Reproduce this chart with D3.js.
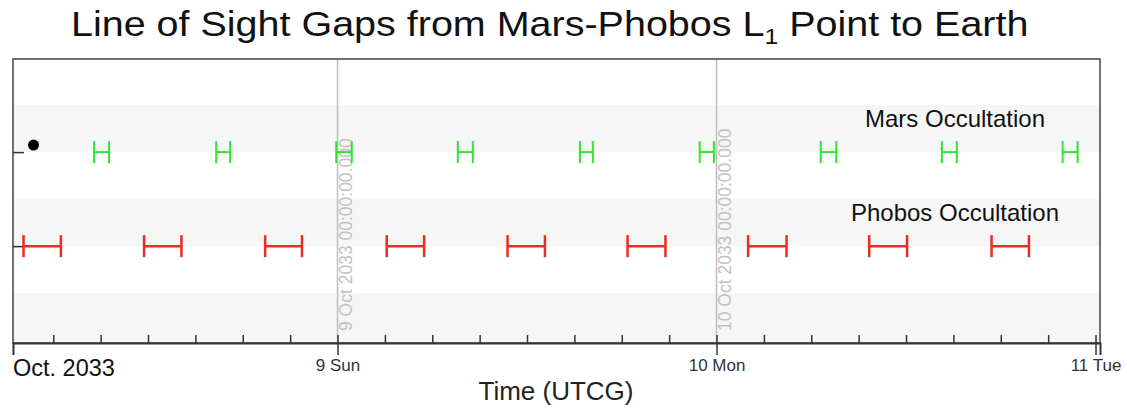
<!DOCTYPE html>
<html>
<head>
<meta charset="utf-8">
<script src="https://cdn.jsdelivr.net/npm/d3@7"></script>
<style>
  html, body { margin: 0; padding: 0; background: #fff; }
  svg { display: block; font-family: "Liberation Sans", Arial, sans-serif; }
</style>
</head>
<body>
<svg id="chart" width="1127" height="409"></svg>
<script>
// Occultation rows (row index on the y scale)
const rows = ["Mars Occultation", "Phobos Occultation"];
const rowIndex = [1, 2];

// Line-of-sight gaps caused by Mars (UTCG)
const marsStart = ["2033-10-08T08:35", "2033-10-08T16:19", "2033-10-08T23:55", "2033-10-09T07:37",
                   "2033-10-09T15:21", "2033-10-09T22:56", "2033-10-10T06:36", "2033-10-10T14:16",
                   "2033-10-10T21:55"];
const marsEnd   = ["2033-10-08T09:32", "2033-10-08T17:12", "2033-10-09T00:54", "2033-10-09T08:34",
                   "2033-10-09T16:10", "2033-10-09T23:50", "2033-10-10T07:35", "2033-10-10T15:13",
                   "2033-10-10T22:52"];

// Line-of-sight gaps caused by Phobos (UTCG)
const phobosStart = ["2033-10-08T04:07", "2033-10-08T11:45", "2033-10-08T19:25", "2033-10-09T03:07",
                     "2033-10-09T10:46", "2033-10-09T18:22", "2033-10-10T02:00", "2033-10-10T09:40",
                     "2033-10-10T17:25"];
const phobosEnd   = ["2033-10-08T06:29", "2033-10-08T14:07", "2033-10-08T21:45", "2033-10-09T05:29",
                     "2033-10-09T13:08", "2033-10-09T20:46", "2033-10-10T04:26", "2033-10-10T12:04",
                     "2033-10-10T19:47"];

// Single event marker
const markerTime = ["2033-10-08T04:45"];
const markerRow = [0.925];

// Time window and day markers
const timeWindow = ["2033-10-08T03:27", "2033-10-11T00:17"];
const dayMarks = ["2033-10-09T00:00", "2033-10-10T00:00"];

const titleMain = "Line of Sight Gaps from Mars-Phobos L";
const titleSub = "1";
const titleEnd = " Point to Earth";
const xTitle = "Time (UTCG)";
const monthLabel = "Oct. 2033";

const t = s => new Date(s + ":00Z");

const svg = d3.select("#chart");
const L = 13, R = 1100, T = 59, B = 343;

const x = d3.scaleUtc().domain(timeWindow.map(t)).range([L, R]);
const y = d3.scaleLinear().domain([0.01, 3.03]).range([T, B]);

// Alternating row shading
const bands = [1, 2, 3];
svg.append("g").selectAll("rect").data(bands).join("rect")
  .attr("x", L)
  .attr("width", R - L)
  .attr("y", d => y(d - 0.5))
  .attr("height", d => Math.min(y(d), B) - y(d - 0.5) + (d === 3 ? B - y(d) : 0))
  .attr("fill", "#f6f6f6");

// Day boundary lines with their labels
const fmtFull = d3.utcFormat("%-d %b %Y %H:%M:%S.%L");
const days = svg.append("g");
days.selectAll("line").data(dayMarks).join("line")
  .attr("x1", d => x(t(d))).attr("x2", d => x(t(d)))
  .attr("y1", T).attr("y2", B)
  .attr("stroke", "#bdbdbd").attr("stroke-width", 1.5);
days.selectAll("text").data(dayMarks).join("text")
  .attr("transform", d => `translate(${x(t(d)) + 14},${B - 12}) rotate(-90)`)
  .attr("font-size", 17.5)
  .attr("fill", "#c2c2c2")
  .text(d => fmtFull(t(d)));

// Frame
svg.append("rect")
  .attr("x", L).attr("y", T).attr("width", R - L).attr("height", B - T)
  .attr("fill", "none").attr("stroke", "#444").attr("stroke-width", 1.5);

// Y axis ticks at each row
svg.append("g")
  .attr("transform", `translate(${L},0)`)
  .call(d3.axisLeft(y).tickValues(rowIndex).tickSize(-11).tickFormat(""))
  .call(g => g.select(".domain").remove())
  .call(g => g.selectAll("line").attr("stroke", "#333").attr("stroke-width", 1.5));

// X axis: 3-hour minor ticks pointing inward
svg.append("g")
  .attr("transform", `translate(0,${B})`)
  .call(d3.axisBottom(x).ticks(d3.utcHour.every(3)).tickSize(-8).tickFormat(""))
  .call(g => g.select(".domain").remove())
  .call(g => g.selectAll("line").attr("stroke", "#333").attr("stroke-width", 1.5));

// X axis: day ticks with labels
svg.append("g")
  .attr("transform", `translate(0,${B})`)
  .call(d3.axisBottom(x).ticks(d3.utcDay.every(1)).tickSize(12).tickPadding(4)
        .tickFormat(d3.utcFormat("%-d %a")))
  .call(g => g.select(".domain").attr("stroke", "#333").attr("stroke-width", 2))
  .call(g => g.selectAll("line").attr("stroke", "#333").attr("stroke-width", 1.5))
  .call(g => g.selectAll("text").attr("font-size", 17).attr("fill", "#333")
        .attr("font-family", "Liberation Sans, Arial, sans-serif"));

// Interval glyphs: horizontal bar with end caps
function drawIntervals(starts, ends, row, color, width) {
  const data = starts.map((s, i) => ({ s: t(s), e: t(ends[i]) }));
  const g = svg.append("g").attr("stroke", color).attr("stroke-width", width).attr("fill", "none");
  const yc = y(row);
  const cap = 11;
  const item = g.selectAll("g").data(data).join("g");
  item.append("line").attr("x1", d => x(d.s)).attr("x2", d => x(d.e)).attr("y1", yc).attr("y2", yc);
  item.append("line").attr("x1", d => x(d.s)).attr("x2", d => x(d.s)).attr("y1", yc - cap).attr("y2", yc + cap);
  item.append("line").attr("x1", d => x(d.e)).attr("x2", d => x(d.e)).attr("y1", yc - cap).attr("y2", yc + cap);
}
drawIntervals(marsStart, marsEnd, rowIndex[0], "#2ee62e", 2);
drawIntervals(phobosStart, phobosEnd, rowIndex[1], "#ee2a22", 2.5);

// Event marker
svg.append("g").selectAll("circle").data(markerTime).join("circle")
  .attr("cx", d => x(t(d)))
  .attr("cy", (d, i) => y(markerRow[i]))
  .attr("r", 5.5)
  .attr("fill", "#000");

// Row labels
svg.append("g").selectAll("text").data(rows).join("text")
  .attr("x", 955)
  .attr("y", (d, i) => y(rowIndex[i]) - 25)
  .attr("text-anchor", "middle")
  .attr("font-size", 24)
  .attr("fill", "#111")
  .text(d => d);

// Month label under the axis
svg.append("text")
  .attr("x", L).attr("y", 376)
  .attr("font-size", 23.5).attr("fill", "#111")
  .text(monthLabel);

// Axis title
svg.append("text")
  .attr("x", 556).attr("y", 400)
  .attr("text-anchor", "middle")
  .attr("font-size", 26).attr("fill", "#222")
  .text(xTitle);

// Chart title with subscript
const title = svg.append("text")
  .attr("y", 36)
  .attr("font-size", 35).attr("fill", "#111");
title.append("tspan").text(titleMain);
title.append("tspan").attr("font-size", 22).attr("dy", 8).text(titleSub);
title.append("tspan").attr("dy", -8).text(titleEnd);
const bb = title.node().getBBox();
const targetW = 958, targetX = 71;
const sx = targetW / bb.width;
title.attr("transform", `translate(${targetX - bb.x * sx},0) scale(${sx},1)`);
</script>
</body>
</html>
